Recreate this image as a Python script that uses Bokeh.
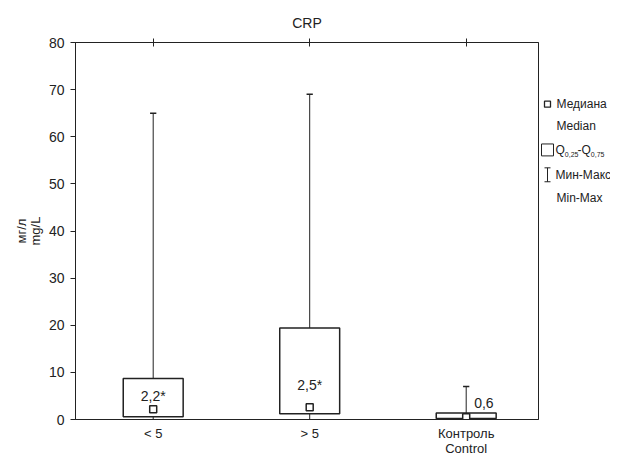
from bokeh.plotting import figure
from bokeh.models import Range1d, LinearAxis, FixedTicker, ColumnDataSource
from bokeh.layouts import row
from bokeh.core.properties import value
from bokeh.embed import file_html
from bokeh.resources import INLINE

# ---- data ----
categories = ["< 5", "> 5", "Контроль\nControl"]
cat_pos = [1, 2, 3]
mins = [0.0, 0.0, 0.2]
q1 = [0.6, 1.2, 0.2]
medians = [2.2, 2.6, 0.5]
q3 = [8.7, 19.4, 1.4]
maxs = [65.0, 69.0, 7.0]
median_labels = ["2,2*", "2,5*", "0,6"]
y_ticks = [0, 10, 20, 30, 40, 50, 60, 70, 80]

FONT = "Liberation Sans"
INK = "#222222"
BOX_W = 0.383
CAP_W = 0.02

H = 459
MAIN_W = 539
LEG_W = 610 - MAIN_W
BT, BB = 42, 38

p = figure(width=MAIN_W, height=H, output_backend="svg", toolbar_location=None,
           x_range=Range1d(0.5035, 3.462), y_range=Range1d(0, 80),
           min_border_left=75, min_border_right=1, min_border_top=BT,
           min_border_bottom=BB, background_fill_color="white",
           border_fill_color="white")
p.title.text = "CRP"
p.title.align = "center"
p.title.text_font = FONT
p.title.text_font_size = "14px"
p.title.text_font_style = "normal"
p.title.text_color = INK
p.title.standoff = 15
p.grid.visible = False
p.outline_line_color = INK
p.outline_line_width = 1

# left axis
ya = p.yaxis[0]
ya.ticker = FixedTicker(ticks=y_ticks)
ya.major_tick_out = 5
ya.major_tick_in = 0
ya.minor_tick_out = 0
ya.minor_tick_in = 0
ya.major_label_standoff = 6
ya.major_label_text_font = FONT
ya.major_label_text_font_size = "14px"
ya.major_label_text_color = INK
ya.axis_line_color = INK
ya.major_tick_line_color = INK
ya.axis_label = "мг/л\nmg/L"
ya.axis_label_text_font = FONT
ya.axis_label_text_font_size = "13px"
ya.axis_label_text_line_height = 0.95
ya.axis_label_text_font_style = "normal"
ya.axis_label_text_color = INK
ya.axis_label_standoff = 3

# bottom axis
xa = p.xaxis[0]
xa.ticker = FixedTicker(ticks=cat_pos)
xa.major_label_overrides = {c: l for c, l in zip(cat_pos, categories)}
xa.major_tick_out = 0
xa.major_tick_in = 0
xa.minor_tick_out = 0
xa.minor_tick_in = 0
xa.major_label_standoff = 6
xa.major_label_text_font = FONT
xa.major_label_text_font_size = "13px"
xa.major_label_text_line_height = 1.05
xa.major_label_text_color = INK
xa.axis_line_color = INK

# top axis with ticks only
ta = LinearAxis(ticker=FixedTicker(ticks=cat_pos),
                major_label_overrides={c: "" for c in cat_pos},
                major_tick_in=4, major_tick_out=4, minor_tick_in=0, minor_tick_out=0,
                axis_line_color=INK, major_tick_line_color=INK,
                major_label_text_font_size="1px", major_label_standoff=0)
p.add_layout(ta, "above")

src = ColumnDataSource(dict(x=cat_pos, mins=mins, q1=q1, med=medians, q3=q3, maxs=maxs,
                            left=[c - BOX_W / 2 for c in cat_pos],
                            right=[c + BOX_W / 2 for c in cat_pos],
                            cl=[c - CAP_W for c in cat_pos],
                            cr=[c + CAP_W for c in cat_pos]))

# whiskers
p.segment(x0="x", y0="mins", x1="x", y1="maxs", source=src, line_color=INK, line_width=1)
p.segment(x0="cl", y0="maxs", x1="cr", y1="maxs", source=src, line_color=INK, line_width=1.5)
p.segment(x0="cl", y0="mins", x1="cr", y1="mins", source=src, line_color=INK, line_width=1)
# boxes
p.quad(left="left", right="right", bottom="q1", top="q3", source=src,
       fill_color="white", line_color=INK, line_width=1.5)
# medians
p.scatter(x="x", y="med", source=src, marker="square", size=7,
          fill_color="white", line_color=INK, line_width=1.5)

# median value labels (layout offsets in px)
lab_x_off = [0, 0, 8]
lab_y_off = [-13, -22, -14]
lab_align = ["center", "center", "left"]
lsrc = ColumnDataSource(dict(x=cat_pos, y=medians, t=median_labels,
                             xo=lab_x_off, yo=lab_y_off, al=lab_align))
p.text(x="x", y="y", text="t", source=lsrc, x_offset="xo", y_offset="yo",
       text_align="al", text_baseline="middle", text_font=value(FONT),
       text_font_size="14px", text_color=INK)

# ---- legend panel (its frame is aligned with the main frame; coords = canvas px) ----
lg = figure(width=LEG_W, height=H, output_backend="svg", toolbar_location=None,
            title_location=None,
            x_range=Range1d(MAIN_W, MAIN_W + LEG_W), y_range=Range1d(H - BB, BT),
            min_border=0, min_border_left=0, min_border_right=0,
            min_border_top=0, min_border_bottom=0, outline_line_color=None,
            background_fill_color="white", border_fill_color="white")
lg.axis.visible = False
lg.grid.visible = False

lg.rect(x=[547], y=[104], width=6, height=6, fill_color="white",
        line_color=INK, line_width=1.3)
lg.rect(x=[547], y=[150], width=12, height=12, fill_color="white",
        line_color=INK, line_width=1)
lg.segment(x0=[547, 544, 544], y0=[168, 168, 182], x1=[547, 550, 550], y1=[182, 168, 182],
           line_color=INK, line_width=1)

txt = dict(text_font=value(FONT), text_font_size="12px", text_color=INK,
           text_baseline="middle", text_align="left")
lg.text(x=[556, 556, 555, 556], y=[104, 126, 175, 198],
        text=["Медиана", "Median", "Мин-Макс", "Min-Max"], **txt)
lg.text(x=[555, 577], y=[150, 150], text=["Q", "-Q"], **txt)
sub = dict(txt)
sub["text_font_size"] = "7px"
lg.text(x=[564.3, 590.3], y=[155, 155], text=["0,25", "0,75"], **sub)

layout = row(p, lg)
open("out.html", "w").write(file_html(layout, INLINE))
